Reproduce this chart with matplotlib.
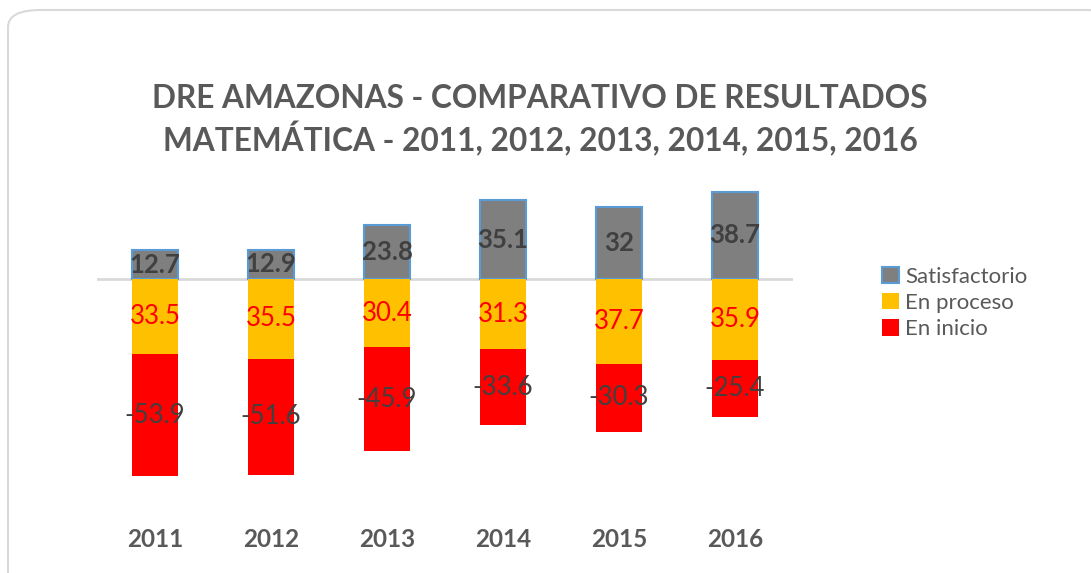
import matplotlib
matplotlib.use("Agg")
import matplotlib.pyplot as plt
from matplotlib.patches import FancyBboxPatch, Patch

plt.rcParams['font.family'] = ['Lato', 'DejaVu Sans']

years = ["2011", "2012", "2013", "2014", "2015", "2016"]
satisfactorio = [12.7, 12.9, 23.8, 35.1, 32, 38.7]
en_proceso = [33.5, 35.5, 30.4, 31.3, 37.7, 35.9]
en_inicio = [53.9, 51.6, 45.9, 33.6, 30.3, 25.4]
sat_labels = ["12.7", "12.9", "23.8", "35.1", "32", "38.7"]
proc_labels = ["33.5", "35.5", "30.4", "31.3", "37.7", "35.9"]
ini_labels = ["-53.9", "-51.6", "-45.9", "-33.6", "-30.3", "-25.4"]

title = "DRE AMAZONAS - COMPARATIVO DE RESULTADOS\nMATEMÁTICA - 2011, 2012, 2013, 2014, 2015, 2016"

W, H = 1091, 573
fig = plt.figure(figsize=(W / 100, H / 100), dpi=100)
fig.patch.set_facecolor("white")

# rounded chart border
border = FancyBboxPatch((8 / W, -20 / H), (W + 20) / W, (H + 10) / H,
                        boxstyle="round,pad=0,rounding_size=0.03",
                        transform=fig.transFigure, facecolor="white",
                        edgecolor="#D9D9D9", linewidth=1.5, zorder=-10)
fig.patches.append(border)

ax = fig.add_axes([97 / W, 69 / H, 696 / W, 337.5 / H])
ax.set_facecolor("none")
ax.set_zorder(1)
x = list(range(len(years)))
bw = 0.4

neg_proc = [-v for v in en_proceso]
neg_ini = [-v for v in en_inicio]

ax.bar(x, satisfactorio, width=bw, color="#7F7F7F", edgecolor="#5B9BD5",
       linewidth=1.5, label="Satisfactorio", zorder=3)
ax.bar(x, neg_proc, width=bw, color="#FFC000", edgecolor="none",
       label="En proceso", zorder=3)
ax.bar(x, neg_ini, width=bw, bottom=neg_proc, color="#FF0000",
       edgecolor="none", label="En inicio", zorder=3)

ax.axhline(0, color="#D9D9D9", linewidth=2, zorder=2)

for i in x:
    ax.text(i, satisfactorio[i] / 2, sat_labels[i], ha="center", va="center",
            fontsize=18.5, fontweight="bold", color="#404040", zorder=5)
    ax.text(i, -en_proceso[i] / 2, proc_labels[i], ha="center", va="center",
            fontsize=18.5, color="#FF0000", zorder=5)
    ax.text(i, -en_proceso[i] - en_inicio[i] / 2, ini_labels[i], ha="center",
            va="center", fontsize=18.5, color="#404040", zorder=5)

ax.set_xlim(-0.5, len(years) - 0.5)
ax.set_ylim(-100, 50)
ax.set_yticks([])
ax.set_xticks(x)
ax.set_xticklabels(years, fontsize=17.5, fontweight="bold", color="#595959")
ax.tick_params(axis="x", length=0, pad=17)
for s in ax.spines.values():
    s.set_visible(False)

fig.text(540 / W, 1 - 120 / H, title, ha="center", va="center", fontsize=22.8,
         fontweight="bold", color="#595959", linespacing=1.26)

handles = [Patch(facecolor="#7F7F7F", edgecolor="#5B9BD5", linewidth=1.5),
           Patch(facecolor="#FFC000"), Patch(facecolor="#FF0000")]
fig.legend(handles, ["Satisfactorio", "En proceso", "En inicio"],
           loc="upper left", bbox_to_anchor=(873 / W, 1 - 258 / H),
           frameon=False, fontsize=16, labelcolor="#595959",
           handlelength=0.75, handleheight=0.75, handletextpad=0.3,
           labelspacing=0.28, borderaxespad=0)

fig.savefig("out.png", dpi=100, facecolor="white")
